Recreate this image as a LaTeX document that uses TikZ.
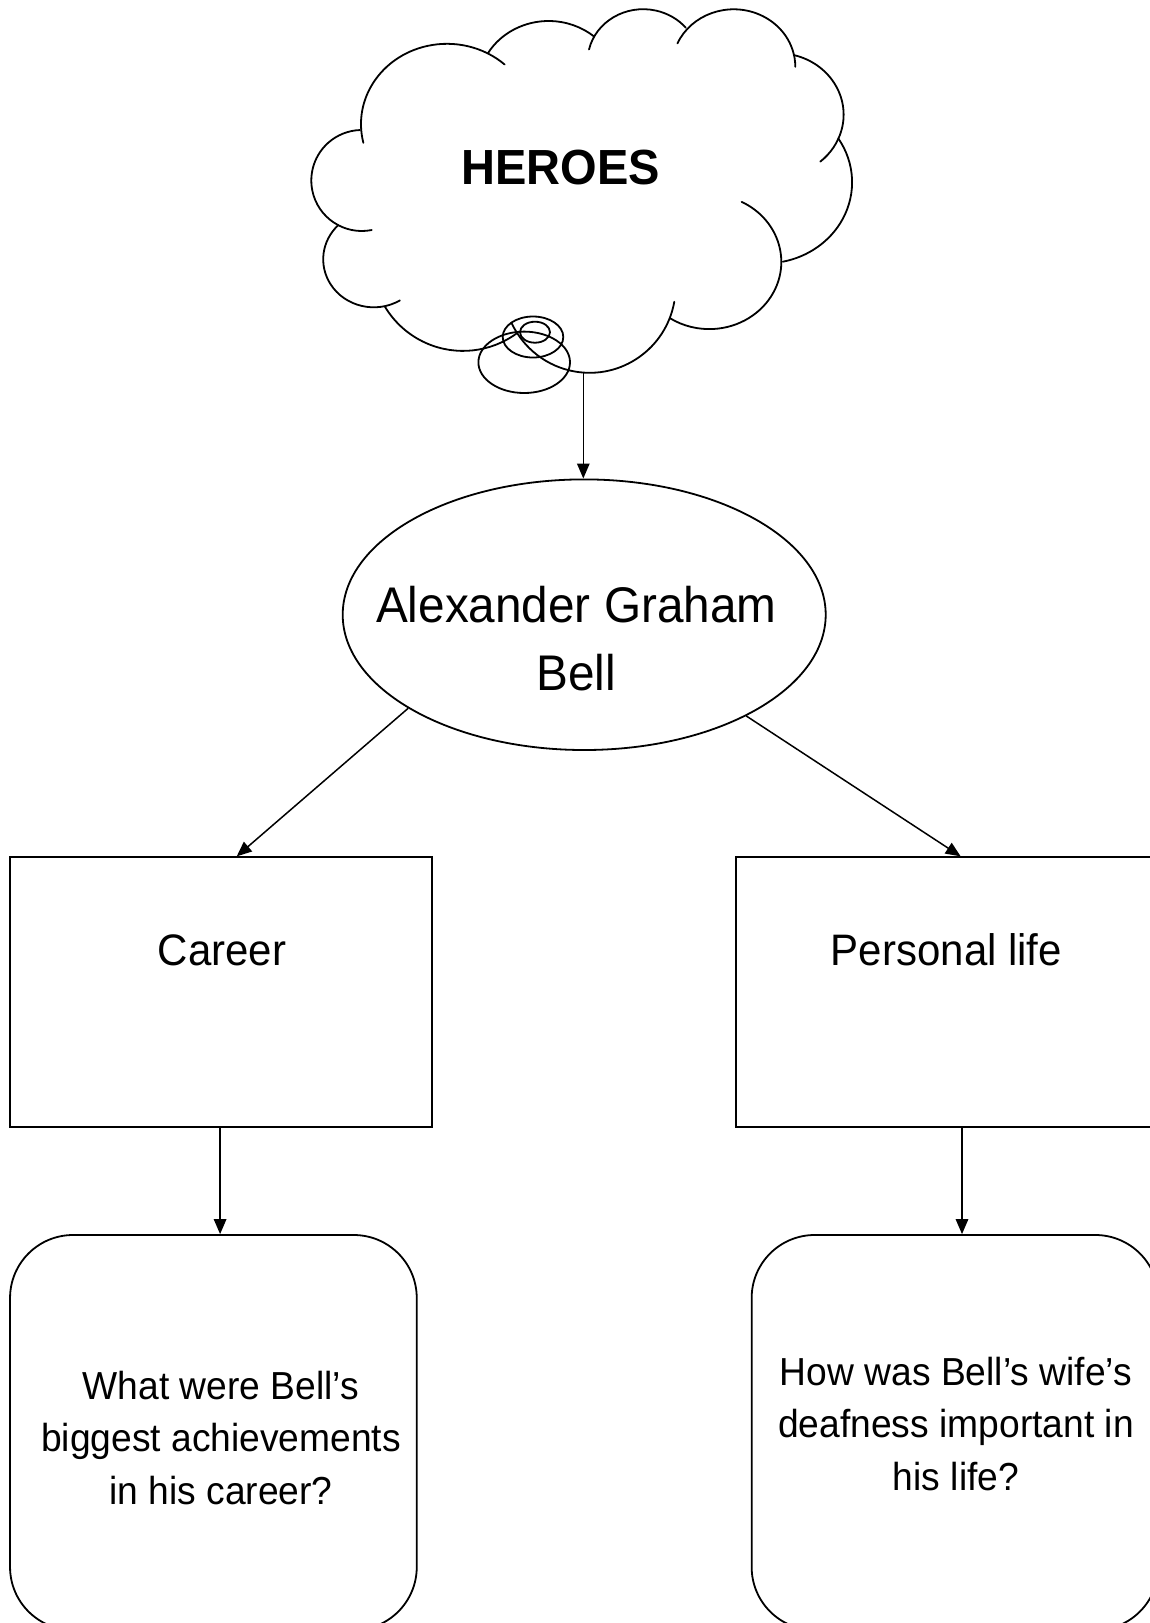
\documentclass[tikz,border=0pt]{standalone}
\usepackage{fontspec}
\setmainfont{Liberation Sans}
\usepackage{graphicx}
\usetikzlibrary{shapes.geometric,arrows.meta,calc}
\newcommand{\vs}[1]{\scalebox{1}[1.05]{#1}}
\newcommand{\cloudbump}[6]{\draw[cloudline] ([shift={(#3:#4pt and #5pt)}]#1,#2) arc[start angle=#3,end angle=#6,x radius=#4pt,y radius=#5pt];}
\begin{document}
\begin{tikzpicture}[x=1pt,y=1pt,yscale=-1,
  cloudline/.style={line width=1.8pt,line cap=round},
  arr/.style={line width=1.5pt,-{Triangle[length=15pt,width=12.5pt]}},
  boxst/.style={draw,rectangle,line width=1.9pt,inner sep=0pt,minimum width=421.5pt,minimum height=270pt},
  rbox/.style={draw,rectangle,rounded corners=63pt,line width=1.8pt,inner sep=0pt,minimum width=406.7pt,minimum height=395pt},
  ellst/.style={draw,ellipse,line width=1.8pt,inner sep=0pt,minimum width=483pt,minimum height=270.6pt},
  lbl/.style={anchor=base,inner sep=0pt}]
\useasboundingbox (0,0) rectangle (1150,1623);
\clip (0,0) rectangle (1150,1623);
\fill[white] (0,0) rectangle (1150,1623);

% cloud
\cloudbump{447}{124.1}{166.5}{86}{80.3}{312.1}
\cloudbump{548.6}{86.9}{211}{70.6}{65.9}{310}
\cloudbump{643.2}{61.1}{193}{55.6}{51.9}{320}
\cloudbump{733.7}{66.8}{204}{61.6}{57.5}{360}
\cloudbump{777.7}{114.7}{284}{65.9}{61.5}{409.7}
\cloudbump{765.2}{182.3}{327.2}{86.9}{81.1}{438.3}
\cloudbump{709.3}{261.9}{296.7}{72}{67.2}{482.7}
\cloudbump{589.6}{286.8}{10}{86}{86}{154.9}
\cloudbump{463}{259.9}{53.8}{91}{91}{149}
\cloudbump{373.8}{259.3}{58.9}{50.6}{48}{225.4}
\cloudbump{361.8}{180.5}{78.7}{50.5}{50.5}{268}
\draw[cloudline] (535,332.2) ellipse [x radius=15pt, y radius=10.5pt];
\draw[cloudline] (533,337) ellipse [x radius=30.3pt, y radius=20.5pt];
\draw[cloudline] (524.2,362.3) ellipse [x radius=45.8pt, y radius=30.7pt];
\coordinate (cloudtip) at (583.3,372.7);
\node[lbl,font=\bfseries\fontsize{47}{56}\selectfont] (heroes) at (560.8,184.3) {\vs{HEROES}};

% shapes
\node[ellst] (agb) at (584.2,614.7) {};
\node[boxst] (career) at (221.1,992.3) {};
\node[boxst] (personal) at (946.5,992.3) {};
\node[rbox] (q1) at (213.4,1432.5) {};
\node[rbox] (q2) at (955,1432.5) {};

% texts
\node[lbl,font=\fontsize{47.7}{68.4}\selectfont] (agbtext) at (576.3,622.3)
  {\begin{tabular}[t]{@{}c@{}}\vs{Alexander Graham}\\\vs{Bell}\end{tabular}};
\node[lbl,font=\fontsize{42}{50}\selectfont] (careertext) at (222,965) {\vs{Career}};
\node[lbl,font=\fontsize{42}{50}\selectfont] (personaltext) at (946.5,965) {\vs{Personal life}};
\node[lbl,font=\fontsize{37.2}{52.5}\selectfont] (q1text) at (221,1399)
  {\begin{tabular}[t]{@{}c@{}}\vs{What were Bell’s}\\\vs{biggest achievements}\\\vs{in his career?}\end{tabular}};
\node[lbl,font=\fontsize{37.2}{52.5}\selectfont] (q2text) at (956,1385)
  {\begin{tabular}[t]{@{}c@{}}\vs{How was Bell’s wife’s}\\\vs{deafness important in}\\\vs{his life?}\end{tabular}};

% connectors
\draw[arr] (cloudtip) -- (cloudtip |- agb.north);
\draw[arr] (agb.208.5) -- ([xshift=15.6pt]career.north);
\draw[arr] (agb.328.4) -- ([xshift=14.2pt]personal.north);
\draw[arr] ([xshift=-1pt]career.south) -- ([xshift=-1pt]career.south |- q1.north);
\draw[arr] ([xshift=15.5pt]personal.south) -- ([xshift=15.5pt]personal.south |- q2.north);
\end{tikzpicture}
\end{document}
